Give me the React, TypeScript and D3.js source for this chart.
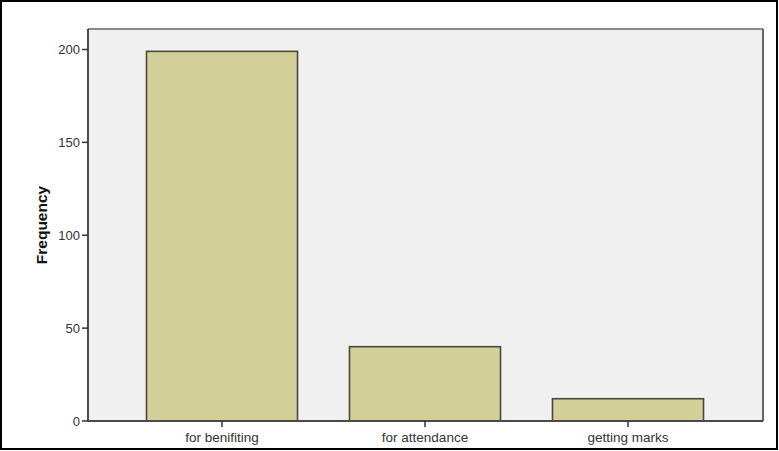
import React from "react";
import * as d3 from "d3";

const categories = ["for benifiting", "for attendance", "getting marks"];
const frequencies = [199, 40, 12];
const yTicks = [0, 50, 100, 150, 200];

export default function App() {
  const W = 779, H = 451;
  const plot = { left: 88, right: 763, top: 29, bottom: 421 };
  const y = d3.scaleLinear().domain([0, 200]).range([421, 49.5]);
  const x = d3
    .scaleBand<string>()
    .domain(categories)
    .range([120.5, 729.5])
    .paddingInner(0.256)
    .paddingOuter(0.128);
  const font = "Arial, 'Liberation Sans', sans-serif";
  return (
    <svg width={W} height={H} style={{ position: "fixed", left: 0, top: 0, background: "#fff" }}>
      <rect x={1} y={1} width={776} height={448} fill="#fff" stroke="#000" strokeWidth={2} />
      <rect x={plot.left} y={plot.top} width={plot.right - plot.left} height={plot.bottom - plot.top} fill="#f0f0f0" />
      <line x1={plot.left} x2={plot.right} y1={plot.top} y2={plot.top} stroke="#8a8a8a" strokeWidth={2} />
      <line x1={plot.right} x2={plot.right} y1={plot.top} y2={plot.bottom} stroke="#666" strokeWidth={2} />
      {categories.map((c, i) => (
        <rect
          key={c}
          x={x(c)}
          y={y(frequencies[i])}
          width={x.bandwidth()}
          height={y(0) - y(frequencies[i])}
          fill="#d3cf98"
          stroke="#4a4838"
          strokeWidth={1.6}
        />
      ))}
      <line x1={plot.left} x2={plot.left} y1={plot.top} y2={plot.bottom} stroke="#4a4a4a" strokeWidth={2} />
      <line x1={plot.left} x2={plot.right} y1={plot.bottom} y2={plot.bottom} stroke="#4a4a4a" strokeWidth={2} />
      {yTicks.map((t) => (
        <g key={t}>
          <line x1={plot.left - 6} x2={plot.left} y1={y(t)} y2={y(t)} stroke="#333" strokeWidth={1.5} />
          <text x={plot.left - 8} y={y(t)} dy="0.35em" textAnchor="end" fontFamily={font} fontSize={13} fill="#333">
            {t}
          </text>
        </g>
      ))}
      {categories.map((c) => {
        const cx = (x(c) as number) + x.bandwidth() / 2;
        return (
          <g key={c}>
            <line x1={cx} x2={cx} y1={plot.bottom} y2={plot.bottom + 6} stroke="#333" strokeWidth={1.5} />
            <text x={cx} y={442} textAnchor="middle" fontFamily={font} fontSize={13.5} fill="#333">
              {c}
            </text>
          </g>
        );
      })}
      <text
        transform={`translate(47,${(plot.top + plot.bottom) / 2}) rotate(-90)`}
        textAnchor="middle"
        fontFamily={font}
        fontSize={15.5}
        fontWeight="bold"
        fill="#111"
      >
        Frequency
      </text>
    </svg>
  );
}
